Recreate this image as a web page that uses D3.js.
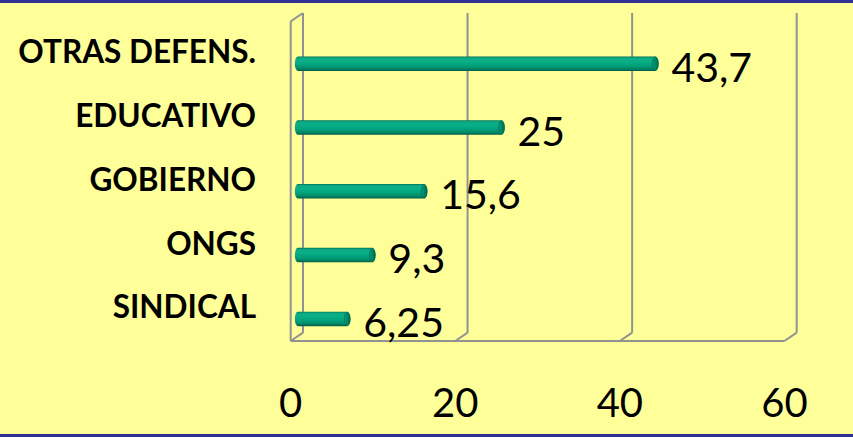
<!DOCTYPE html>
<html>
<head>
<meta charset="utf-8">
<script src="https://cdn.jsdelivr.net/npm/d3@7"></script>
<style>
  html, body { margin: 0; padding: 0; background: #FFFF99; }
  svg { display: block; }
</style>
</head>
<body>
<svg id="chart" width="853" height="437"></svg>
<script>
// ---- data ----
const categories = ["OTRAS DEFENS.", "EDUCATIVO", "GOBIERNO", "ONGS", "SINDICAL"];
const values = [43.7, 25, 15.6, 9.3, 6.25];
const valueLabels = ["43,7", "25", "15,6", "9,3", "6,25"];
const tickValues = [0, 20, 40, 60];
const tickLabels = ["0", "20", "40", "60"];

// ---- layout ----
const W = 853, H = 437;
const svg = d3.select("#chart");

const x = d3.scaleLinear().domain([0, 60]).range([290.7, 784.4]); // front plane
const depth = { dx: 12.3, dy: -8.3 };
const y = d3.scaleBand().domain(categories).range([31.8, 350.8]).padding(0);
const floorY = 341, wallTopY = 21.3;
const gridColor = "#929292";

// background + borders
svg.append("rect").attr("width", W).attr("height", H).attr("fill", "#FFFF99");
svg.append("rect").attr("x", 0).attr("y", 0).attr("width", W).attr("height", 3).attr("fill", "#2E3192");
svg.append("rect").attr("x", 0).attr("y", 434).attr("width", W).attr("height", 3).attr("fill", "#2E3192");

// gradients for cylinders
const defs = svg.append("defs");
const grad = defs.append("linearGradient").attr("id", "cyl").attr("x1", 0).attr("y1", 0).attr("x2", 0).attr("y2", 1);
[["0%", "#006E53"], ["10%", "#0AA983"], ["30%", "#0BB088"], ["60%", "#00A27C"], ["82%", "#008C6A"], ["100%", "#005C45"]]
  .forEach(([o, c]) => grad.append("stop").attr("offset", o).attr("stop-color", c));
const capGrad = defs.append("linearGradient").attr("id", "cap").attr("x1", 0).attr("y1", 0).attr("x2", 1).attr("y2", 0);
[["0%", "#00A27C"], ["100%", "#006A50"]]
  .forEach(([o, c]) => capGrad.append("stop").attr("offset", o).attr("stop-color", c));

const g = svg.append("g");

// back wall gridlines (vertical)
g.selectAll("line.grid").data(tickValues).join("line")
  .attr("class", "grid")
  .attr("x1", d => x(d) + depth.dx).attr("x2", d => x(d) + depth.dx)
  .attr("y1", wallTopY + depth.dy).attr("y2", floorY + depth.dy)
  .attr("stroke", gridColor).attr("stroke-width", 2);

// floor depth ticks
g.selectAll("line.floor").data(tickValues).join("line")
  .attr("class", "floor")
  .attr("x1", d => x(d)).attr("y1", floorY)
  .attr("x2", d => x(d) + depth.dx).attr("y2", floorY + depth.dy)
  .attr("stroke", gridColor).attr("stroke-width", 2);

// floor front edge
g.append("line")
  .attr("x1", x(0)).attr("x2", x(60)).attr("y1", floorY).attr("y2", floorY)
  .attr("stroke", gridColor).attr("stroke-width", 2);

// left wall front edge + top
g.append("line")
  .attr("x1", x(0)).attr("x2", x(0)).attr("y1", wallTopY).attr("y2", floorY)
  .attr("stroke", gridColor).attr("stroke-width", 2);
g.append("line")
  .attr("x1", x(0)).attr("y1", wallTopY)
  .attr("x2", x(0) + depth.dx).attr("y2", wallTopY + depth.dy)
  .attr("stroke", gridColor).attr("stroke-width", 2);

// bars (cylinders) at mid depth
const mid = v => x(v) + depth.dx / 2;
const bh = 14.5, r = 3;
const bars = g.selectAll("g.bar").data(categories).join("g").attr("class", "bar");
bars.append("path")
  .attr("d", (c, i) => {
    const cy = y(c) + y.bandwidth() / 2;
    const x0 = mid(0) - 2, x1 = mid(values[i]) + 2;
    const yt = cy - bh / 2, yb = cy + bh / 2;
    return `M${x0 + r},${yt} H${x1 - r} A${r},${bh / 2} 0 0 1 ${x1 - r},${yb} H${x0 + r} A${r},${bh / 2} 0 0 1 ${x0 + r},${yt} Z`;
  })
  .attr("fill", "url(#cyl)");
bars.append("ellipse")
  .attr("cx", (c, i) => mid(values[i]) + 2 - r)
  .attr("cy", c => y(c) + y.bandwidth() / 2)
  .attr("rx", r).attr("ry", bh / 2 - 0.6)
  .attr("fill", "url(#cap)").attr("stroke", "#00654C").attr("stroke-width", 0.6);

// value labels
g.selectAll("text.val").data(categories).join("text")
  .attr("class", "val")
  .attr("x", (c, i) => mid(values[i]) + 15)
  .attr("y", c => y(c) + y.bandwidth() / 2 + 18)
  .attr("font-family", "Lato, 'Open Sans', sans-serif")
  .attr("font-size", 41)
  .attr("fill", "#000")
  .text((c, i) => valueLabels[i]);

// category labels
g.selectAll("text.cat").data(categories).join("text")
  .attr("class", "cat")
  .attr("x", 256)
  .attr("y", c => y(c) + y.bandwidth() / 2 - 0.5)
  .attr("text-anchor", "end")
  .attr("font-family", "Lato, 'Open Sans', sans-serif")
  .attr("font-weight", "bold")
  .attr("font-size", 31.5)
  .attr("fill", "#000")
  .text(c => c);

// x tick labels
g.selectAll("text.tick").data(tickValues).join("text")
  .attr("class", "tick")
  .attr("x", d => x(d))
  .attr("y", 416.7)
  .attr("text-anchor", "middle")
  .attr("font-family", "Lato, 'Open Sans', sans-serif")
  .attr("font-size", 40)
  .attr("fill", "#000")
  .text((d, i) => tickLabels[i]);
</script>
</body>
</html>
